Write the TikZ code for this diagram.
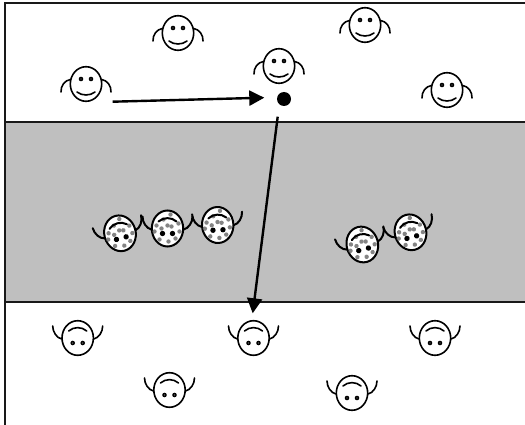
\documentclass[tikz,border=0pt]{standalone}
\usetikzlibrary{arrows.meta}
\tikzset{
  outline/.style={line width=1.6pt,line cap=round},
  heavy/.style={line width=2pt,line cap=round},
  flow/.style={line width=2.4pt,-{Triangle[length=15pt,width=15pt]}},
  frameline/.style={line width=2pt,draw=black!90},
  eyes/.pic={
    \fill (-5,-5) circle (2.3);
    \fill (5,-5) circle (2.3);
    \fill[black!50] (-5,-5) circle (.7);
    \fill[black!50] (5,-5) circle (.7);
  },
  pics/face/.style={code={
    \draw[outline,fill=white] (0,0) ellipse (15.7 and 17.3);
    \draw[outline] (-15.5,-4.5) .. controls (-21,-4) and (-25.5,2) .. (-25,8);
    \draw[outline] (15.5,-4.5) .. controls (21,-4) and (25.5,2) .. (25,8);
    \draw[outline] (-9,8) .. controls (-4,12) and (4,12) .. (9,8);
    \pic {eyes};
  }},
  pics/facedown/.style={code={
    \draw[outline,fill=white] (0,0) ellipse (15.7 and 17.3);
    \draw[outline] (-16,1) .. controls (-21,0) and (-25,-6) .. (-25,-12);
    \draw[outline] (16,1) .. controls (21,0) and (25,-6) .. (25,-12);
    \draw[outline] (-9,-7) .. controls (-4,-11.5) and (4,-11.5) .. (9,-7);
    \pic[yscale=-1] {eyes};
  }},
  pics/facespot/.style={code={
    \draw[heavy,fill=white] (0,0) ellipse (15.7 and 18);
    \foreach \p in {(-11,-3),(-4,-9),(4,-2),(11,-5),(-13,3),(-6,0),(12,3),(1,13),(8,10),(-8,11),(0,-3),(3,-14)}
      \fill[black!60,opacity=.8] \p circle (2.2);
    \draw[heavy] (-16,1) .. controls (-21,0) and (-25,-6) .. (-25,-12);
    \draw[heavy] (16,1) .. controls (21,0) and (25,-6) .. (25,-12);
    \draw[heavy] (-9,-7) .. controls (-4,-11.5) and (4,-11.5) .. (9,-7);
    \fill (-5,5) circle (2.7);
    \fill (5,5) circle (2.7);
  }}
}
\begin{document}
\begin{tikzpicture}[x=1pt,y=-1pt]
\useasboundingbox (0,0) rectangle (525,425);
\fill[white] (0,0) rectangle (525,425);
\fill[black!25] (5,122.5) rectangle (525,302.3);
\draw[frameline] (5,425) -- (5,3.5) -- (525,3.5);
\draw[frameline] (5,122.5) -- (525,122.5);
\draw[frameline] (5,302.3) -- (525,302.3);
\pic at (178,33) {face};
\pic at (365,25) {face};
\pic at (86,84) {face};
\pic at (279,66) {face};
\pic at (447,90) {face};
\pic at (77.7,338) {facedown};
\pic at (253.5,338) {facedown};
\pic at (435,338) {facedown};
\pic at (169.5,390) {facedown};
\pic at (352,393) {facedown};
\pic[rotate=15] at (120,233.3) {facespot};
\pic at (167.5,228.5) {facespot};
\pic[rotate=3] at (217.7,225) {facespot};
\pic[rotate=15] at (362.3,244.5) {facespot};
\pic[rotate=15] at (410.5,232.3) {facespot};
\node[circle,fill=black,inner sep=0pt,minimum size=14pt] (dot) at (284,99) {};
\coordinate (startA) at (112.7,101.7);
\coordinate (endA) at (264.3,97.7);
\coordinate (startB) at (277.7,116.7);
\coordinate (endB) at (252.7,313.3);
\draw[flow] (startA) -- (endA);
\draw[flow] (startB) -- (endB);
\end{tikzpicture}
\end{document}
